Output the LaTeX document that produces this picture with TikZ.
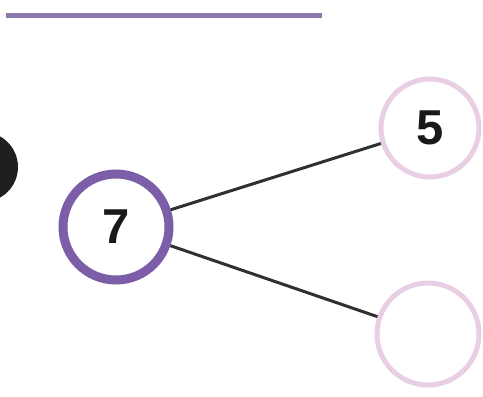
\documentclass[tikz,border=0pt]{standalone}
\usepackage{fontspec}
\setmainfont{Liberation Sans}
\definecolor{topbar}{HTML}{8C79AE}
\definecolor{rootring}{HTML}{7B5DA8}
\definecolor{leafring}{HTML}{E8CFE4}
\definecolor{linkcol}{HTML}{303030}
\tikzset{
  num/.style={font=\fontsize{49}{49}\selectfont\bfseries, text=black!90},
  rootnode/.style={circle, draw=rootring, line width=9pt, minimum size=106pt, inner sep=0pt, num},
  leafnode/.style={circle, draw=leafring, line width=5pt, minimum size=98pt, inner sep=0pt, num},
  link/.style={draw=linkcol, line width=3pt}
}
\begin{document}
\begin{tikzpicture}[x=1pt,y=-1pt]
  \useasboundingbox (0,0) rectangle (483,397);
  \clip (0,0) rectangle (483,397);
  % heading rule
  \draw[topbar, line width=5pt] (6,15) -- (322,15);
  % dark disc cut by the left edge
  \fill[black!88] (-17,167) circle (35);
  % number bond
  \node[rootnode] (whole) at (116,227) {7};
  \node[leafnode] (partA) at (430,128) {5};
  \node[leafnode, minimum size=102pt] (partB) at (428,334) {};
  \draw[link] (whole) -- (partA);
  \draw[link] (whole) -- (partB);
\end{tikzpicture}
\end{document}
